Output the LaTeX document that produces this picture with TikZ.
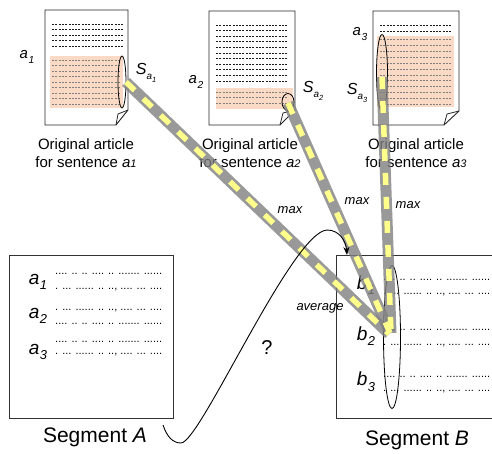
\documentclass[tikz,border=0pt]{standalone}
\usepackage{fontspec}
\setmainfont{Liberation Sans}
\usetikzlibrary{shapes.geometric,arrows.meta}
\definecolor{peach}{RGB}{250,218,196}
\definecolor{beamgray}{RGB}{128,128,128}
\definecolor{beamyellow}{RGB}{255,255,140}
\newcommand\mylbl[3]{{\fontsize{#3}{#3}\selectfont\textit{#1}\kern0.5pt\raisebox{-0.3em}{\scalebox{0.68}{\textit{#2}}}}}
\newcommand\mysl[2]{{\fontsize{16}{16}\selectfont\textit{S}\raisebox{-0.28em}{\scalebox{0.62}{\textit{a}\raisebox{-0.3em}{\scalebox{0.75}{\textit{#2}}}}}}}
\begin{document}
\begin{tikzpicture}[x=1pt,y=-1pt,
  docbox/.style={draw=black!85,line width=0.9pt,fill=white},
  docline/.style={line width=0.7pt,dash pattern=on 2pt off 1.3pt,black!90},
  shline/.style={line width=0.7pt,dash pattern=on 2pt off 1.3pt,black!50},
  shade/.style={fill=peach},
  ell/.style={ellipse,draw=black,line width=0.8pt,inner sep=0pt},
  caption/.style={align=center,font=\fontsize{15}{17.5}\selectfont,inner sep=0pt},
  beam/.style={line width=11pt,draw=beamgray,opacity=0.8,line cap=butt},
  beamdash/.style={line width=5.5pt,draw=beamyellow,dash pattern=on 12pt off 12pt,line cap=butt},
  segbox/.style={draw=black!80,line width=1pt},
  dots/.style={anchor=west,inner sep=0pt,font=\fontsize{11}{11}\selectfont},
  smalllbl/.style={font=\fontsize{13}{13}\selectfont\itshape,inner sep=0pt},
  seglbl/.style={font=\fontsize{21}{21}\selectfont,inner sep=0pt}
]
\useasboundingbox (0,0) rectangle (492,454);

% ---------- document 1 ----------
\path[docbox] (45,10) -- (128,10) -- (128,110) -- (116,125) -- (45,125) -- cycle;
\draw[black!85,line width=0.8pt] (116,125) -- (118,114) -- (128,110);
\fill[shade] (50,56) rectangle (123,108);
\foreach \y in {24,29.5,35,40.5,46} \draw[docline] (52,\y) -- (123,\y);
\foreach \y in {60,65.5,71,76.5,82,87.5,93,98.5,104} \draw[shline] (52,\y) -- (121,\y);
\node[ell,minimum width=8pt,minimum height=52pt] (e1) at (122,82) {};
\node[inner sep=0pt] (la1) at (27,57) {\mylbl{a}{1}{15}};
\node[inner sep=0pt] (sa1) at (146,73) {\mysl{a}{1}};
\node[caption] (c1) at (86,153) {Original article\\for sentence \textit{a}{\fontsize{11}{11}\selectfont\textit{1}}};

% ---------- document 2 ----------
\path[docbox] (209,11) -- (295,11) -- (295,110) -- (280,125) -- (209,125) -- cycle;
\draw[black!85,line width=0.8pt] (280,125) -- (283,113) -- (295,110);
\fill[shade] (216,88) rectangle (293,109);
\foreach \y in {25,30.6,36.2,41.8,47.4,53,58.6,64.2,69.8,75.4,81} \draw[docline] (216,\y) -- (287,\y);
\foreach \y in {92,97.5,103} \draw[shline] (216,\y) -- (287,\y);
\node[ell,minimum width=12pt,minimum height=17pt] (e2) at (288,102) {};
\node[inner sep=0pt] (la2) at (196,82) {\mylbl{a}{2}{15}};
\node[inner sep=0pt] (sa2) at (313,91) {\mysl{a}{2}};
\node[caption] (c2) at (250,153) {Original article\\for sentence \textit{a}{\fontsize{11}{11}\selectfont\textit{2}}};

% ---------- document 3 ----------
\path[docbox] (373,11) -- (459,11) -- (459,111) -- (444,125) -- (373,125) -- cycle;
\draw[black!85,line width=0.8pt] (444,125) -- (447,114) -- (459,111);
\fill[shade] (377,36) rectangle (454,107);
\foreach \y in {25,31.5} \draw[docline] (380,\y) -- (451,\y);
\foreach \y in {39.5,45.4,51.3,57.2,63.1,69,74.9,80.8,86.7,92.6,98.5,104} \draw[shline] (380,\y) -- (451,\y);
\node[ell,minimum width=11pt,minimum height=77pt] (e3) at (382,73) {};
\node[inner sep=0pt] (la3) at (360,34) {\mylbl{a}{3}{15}};
\node[inner sep=0pt] (sa3) at (357,93) {\mysl{a}{3}};
\node[caption] (c3) at (416,153) {Original article\\for sentence \textit{a}{\fontsize{11}{11}\selectfont\textit{3}}};

% ---------- segment A ----------
\draw[segbox] (9,255) rectangle (173,418);
\node[seglbl] (sA) at (95,437) {Segment \textit{A}};
\node[inner sep=0pt] (A1) at (38,282) {\mylbl{a}{1}{19}};
\node[inner sep=0pt] (A2) at (38,316) {\mylbl{a}{2}{19}};
\node[inner sep=0pt] (A3) at (38,352) {\mylbl{a}{3}{19}};
\foreach \y in {273.5,324,341.5} \node[dots] at (55,\y) {.... .. .. .... .. ....... ......};
\foreach \y in {290,310.5,355} \node[dots] at (55,\y) {. ... ...... .. .., .... ... ....};

% ---------- segment B ----------
\draw[segbox] (500,255) -- (336,255) -- (336,418) -- (500,418);
\node[seglbl] (sB) at (417,440) {Segment \textit{B}};
\node[inner sep=0pt] (B1) at (366,285) {\mylbl{b}{1}{19}};
\node[inner sep=0pt] (B2) at (366,336) {\mylbl{b}{2}{19}};
\node[inner sep=0pt] (B3) at (366,382) {\mylbl{b}{3}{19}};
\foreach \y in {280,330,376.5} \node[dots] at (383,\y) {.... .. .. .... .. ....... ......};
\foreach \y in {295,346,392} \node[dots] at (383,\y) {. ... ...... .. .., .... ... ....};
\node[ell,minimum width=17pt,minimum height=143pt] (eB) at (392,337) {};

% ---------- beams ----------
\coordinate (s1) at (126,82);
\coordinate (s2) at (288,103);
\coordinate (s3) at (382,77);
\coordinate (t1) at (389,334);
\coordinate (t2) at (390,333);
\coordinate (t3) at (391,333);
\draw[beam] (s1) -- (t1);
\draw[beam] (s2) -- (t2);
\draw[beam] (s3) -- (t3);
\draw[beamdash] (s1) -- (t1);
\draw[beamdash] (s2) -- (t2);
\draw[beamdash] (s3) -- (t3);

\node[smalllbl] (m1) at (290,210) {max};
\node[smalllbl] (m2) at (357,201) {max};
\node[smalllbl] (m3) at (408,205) {max};
\node[smalllbl] (avg) at (320,308) {average};

% ---------- curved arrow ----------
\coordinate (cs) at (163,425);
\coordinate (cb) at (181,443);
\coordinate (cp) at (327,230);
\coordinate (ce) at (347,255);
\draw[line width=0.9pt,-{Stealth[length=8pt,width=6pt]}]
  (cs) .. controls (167,437) and (173,443) .. (cb)
       .. controls (200,443) and (292,232) .. (cp)
       .. controls (340,230) and (346,242) .. (ce);
\node[font=\fontsize{20}{20}\selectfont,inner sep=0pt] (q) at (267,348) {?};
\end{tikzpicture}
\end{document}
